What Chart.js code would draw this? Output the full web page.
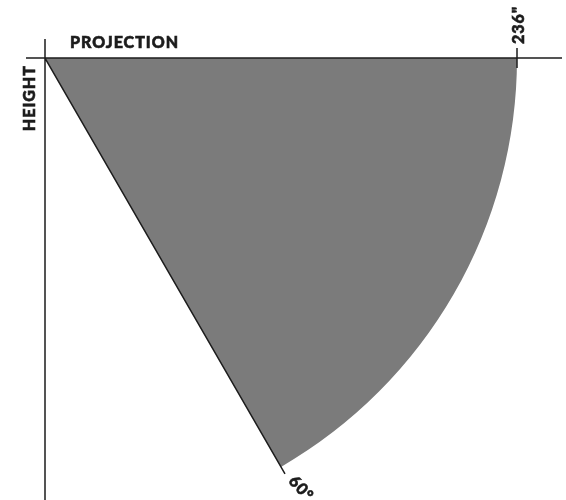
<!DOCTYPE html>
<html lang="en">
<head>
  <meta charset="UTF-8">
  <title>Projection wedge</title>
  <script src="https://cdn.jsdelivr.net/npm/chart.js"></script>
  <style>
    body {
      margin: 0;
      background: #ffffff;
    }

    .wrap {
      width: 566px;
      height: 500px;
      position: relative;
    }
  </style>
</head>
<body>
  <div class="wrap">
    <canvas id="wedgeChart"></canvas>
  </div>

  <script>
    // data
    const axisTitles = ['PROJECTION', 'HEIGHT'];
    const sweepDegrees = [60];
    const projectionInches = [236];
    const tickLabels = [projectionInches[0] + '"', sweepDegrees[0] + '°'];

    const ink = '#1c1c1c';
    const labelFont = '900 16px Lato, "Noto Sans", sans-serif';

    // draws text a touch heavier, the reference uses a bold geometric face
    function heavyText(ctx, txt, px, py) {
      ctx.fillText(txt, px, py);
      ctx.lineWidth = 0.6;
      ctx.strokeText(txt, px, py);
    }

    // axes, tick and labels drawn around the arc the library laid out
    const frame = {
      id: 'frame',
      afterDatasetsDraw(chart) {
        const arc = chart.getDatasetMeta(0).data[0];
        const { x, y, outerRadius: r, endAngle } = arc.getProps(['x', 'y', 'outerRadius', 'endAngle'], true);
        const ctx = chart.ctx;
        ctx.save();
        ctx.strokeStyle = ink;
        ctx.lineWidth = 1.5;

        ctx.beginPath();
        ctx.moveTo(x - 19, y);
        ctx.lineTo(x + r + 45, y);
        ctx.moveTo(x, y - 19);
        ctx.lineTo(x, chart.height);
        ctx.moveTo(x + r, y - 10);
        ctx.lineTo(x + r, y + 10);
        ctx.moveTo(x, y);
        ctx.lineTo(x + (r + 8) * Math.cos(endAngle), y + (r + 8) * Math.sin(endAngle));
        ctx.stroke();

        ctx.fillStyle = ink;
        ctx.font = labelFont;
        ctx.letterSpacing = '1px';

        ctx.textAlign = 'left';
        ctx.textBaseline = 'alphabetic';
        heavyText(ctx, axisTitles[0], x + 25, y - 10);

        ctx.save();
        ctx.translate(x - 10, y + 7);
        ctx.rotate(-Math.PI / 2);
        ctx.textAlign = 'right';
        heavyText(ctx, axisTitles[1], 0, 0);
        ctx.restore();

        ctx.save();
        ctx.translate(x + r + 7, y - 14);
        ctx.rotate(-Math.PI / 2);
        ctx.textAlign = 'left';
        heavyText(ctx, tickLabels[0], 0, 0);
        ctx.restore();

        ctx.save();
        ctx.translate(x + (r + 13) * Math.cos(endAngle) + 4, y + (r + 13) * Math.sin(endAngle));
        ctx.rotate(endAngle - 0.22);
        ctx.textAlign = 'left';
        ctx.textBaseline = 'middle';
        heavyText(ctx, tickLabels[1], 0, 0);
        ctx.restore();

        ctx.restore();
      }
    };

    new Chart(document.getElementById('wedgeChart'), {
      type: 'pie',
      data: {
        labels: [axisTitles[0]],
        datasets: [{
          data: [projectionInches[0]],
          backgroundColor: '#7b7b7b',
          borderWidth: 0
        }]
      },
      options: {
        responsive: true,
        maintainAspectRatio: false,
        animation: false,
        rotation: 90,
        circumference: sweepDegrees[0],
        layout: {
          padding: { left: 45, top: 58, right: 49, bottom: 33 }
        },
        plugins: {
          legend: { display: false },
          tooltip: { enabled: false }
        }
      },
      plugins: [frame]
    });
  </script>
</body>
</html>
